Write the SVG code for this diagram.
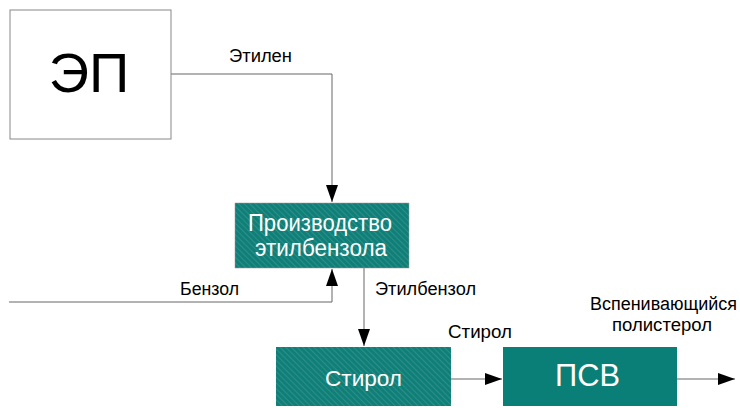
<svg xmlns="http://www.w3.org/2000/svg" width="740" height="408" viewBox="0 0 740 408">
<style>
.t{font-family:"Liberation Sans",Arial,sans-serif;fill:#000;font-size:18px}
.w{font-family:"Liberation Sans",Arial,sans-serif;fill:#fff}
.ln{stroke:#666;stroke-width:1;fill:none}
</style>
<defs>
<pattern id="hatch" width="4" height="4" patternUnits="userSpaceOnUse" patternTransform="rotate(-45)">
<rect width="4" height="4" fill="#0f7f78"/>
<line x1="0" y1="0" x2="0" y2="4" stroke="#4a9f99" stroke-width="1"/>
</pattern>
<marker id="ar" viewBox="0 0 17 12" refX="17" refY="6" markerWidth="17" markerHeight="12" markerUnits="userSpaceOnUse" orient="auto">
<path d="M0,0 L17,6 L0,12 Z" fill="#000"/>
</marker>
</defs>
<rect width="740" height="408" fill="#fff"/>
<g id="connectors">
<polyline class="ln" points="171,74 332,74 332,202" marker-end="url(#ar)"/>
<polyline class="ln" points="9,302 332,302 332,269" marker-end="url(#ar)"/>
<polyline class="ln" points="364,268 364,346" marker-end="url(#ar)"/>
<line class="ln" x1="451" y1="379" x2="502" y2="379" marker-end="url(#ar)"/>
<line class="ln" x1="677" y1="379" x2="735" y2="379" marker-end="url(#ar)"/>
<text class="t" x="229" y="62" textLength="63" lengthAdjust="spacingAndGlyphs">Этилен</text>
<text class="t" x="180" y="295" textLength="59" lengthAdjust="spacingAndGlyphs">Бензол</text>
<text class="t" x="375" y="295" textLength="101" lengthAdjust="spacingAndGlyphs">Этилбензол</text>
<text class="t" x="448" y="338" textLength="64" lengthAdjust="spacingAndGlyphs">Стирол</text>
<text class="t" x="590" y="310" textLength="147" lengthAdjust="spacingAndGlyphs">Вспенивающийся</text>
<text class="t" x="612" y="331" textLength="100" lengthAdjust="spacingAndGlyphs">полистерол</text>
</g>
<g id="ep">
<rect x="10" y="10" width="161" height="129" fill="#fff" stroke="#888" stroke-width="1"/>
<text class="t" x="89" y="92" style="font-size:56px" text-anchor="middle">ЭП</text>
</g>
<g id="etilbenzol">
<rect x="235" y="203" width="174" height="65" fill="url(#hatch)" stroke="#999" stroke-width="0.5"/>
<text class="w" x="248" y="231" font-size="23" textLength="144" lengthAdjust="spacingAndGlyphs">Производство</text>
<text class="w" x="255" y="256" font-size="23" textLength="132" lengthAdjust="spacingAndGlyphs">этилбензола</text>
</g>
<g id="stirol">
<rect x="276" y="347" width="175" height="59" fill="url(#hatch)"/>
<text class="w" x="325" y="386" font-size="22" textLength="77" lengthAdjust="spacingAndGlyphs">Стирол</text>
</g>
<g id="psv">
<rect x="503" y="347" width="174" height="59" fill="#0a7f77"/>
<text class="w" x="555" y="386" font-size="31" textLength="65" lengthAdjust="spacingAndGlyphs">ПСВ</text>
</g>
</svg>
